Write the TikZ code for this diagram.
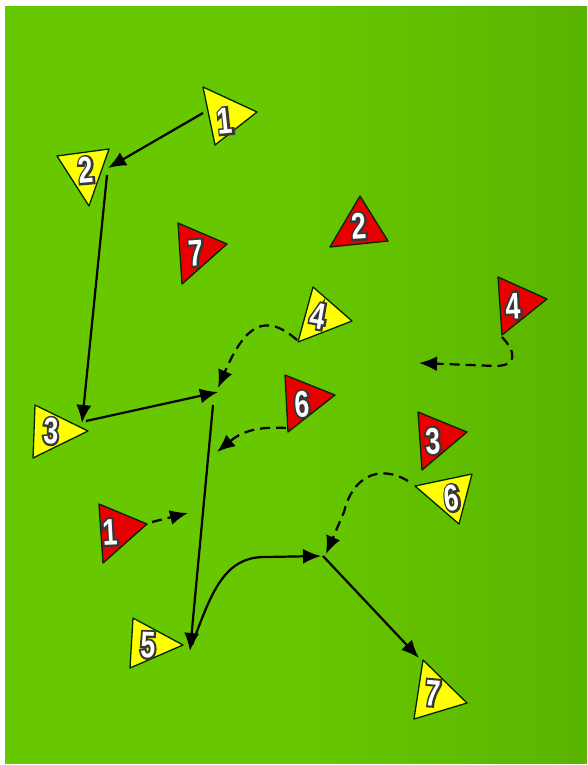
\documentclass[tikz,border=0pt]{standalone}
\usepackage{fontspec}
\newfontfamily\digitfont[FakeStretch=0.72]{Liberation Sans Bold}
\newfontfamily\digitedge[FakeStretch=0.72,FakeBold=11]{Liberation Sans Bold}
\usetikzlibrary{arrows.meta}
\definecolor{fieldL}{RGB}{103,200,0}
\definecolor{fieldR}{RGB}{90,180,0}
\definecolor{flagY}{RGB}{255,255,0}
\definecolor{flagR}{RGB}{232,0,0}
\definecolor{numedge}{RGB}{55,55,55}
\newcommand\outlined[1]{\rlap{\digitedge\textcolor{numedge}{#1}}{\digitfont\textcolor{white}{#1}}}
\tikzset{
  flagline/.style={draw=black!85!green, line width=1.3pt, line join=round},
  numtext/.style={font=\fontsize{37}{37}\selectfont, inner sep=0pt},
  run/.style={line width=2.2pt, -{Latex[length=18pt,width=15pt]}},
  runpass/.style={line width=2.2pt, dash pattern=on 10pt off 6pt, -{Latex[length=18pt,width=15pt]}},
}
\newcommand\numlabel[4]{\node[numtext, rotate=#3] (#1) at (#2) {\outlined{#4}};}
\begin{document}
\begin{tikzpicture}[x=1pt,y=-1pt]
\useasboundingbox (0,0) rectangle (587,765);
\fill[white] (0,0) rectangle (587,765);
\shade[left color=fieldL, right color=fieldR, middle color=fieldL!96!fieldR] (5,7) rectangle (587,763);

% connector end points
\coordinate (a1s) at (203,113); \coordinate (a1e) at (108,168);
\coordinate (a2s) at (107,175); \coordinate (a2e) at (82,423);
\coordinate (a3s) at (86,421);  \coordinate (a3e) at (218,392);
\coordinate (a4s) at (297,340); \coordinate (a4e) at (218,388);
\coordinate (a5s) at (213,405); \coordinate (a5e) at (190,651);
\coordinate (a6s) at (286,428); \coordinate (a6e) at (217,452);
\coordinate (a7s) at (502,337); \coordinate (a7e) at (419,363);
\coordinate (a8s) at (408,481); \coordinate (a8e) at (326,554);
\coordinate (a9s) at (152,522); \coordinate (a9e) at (188,513);
\coordinate (a10s) at (192,645); \coordinate (a10e) at (321,556);
\coordinate (a11s) at (323,556); \coordinate (a11e) at (419,658);

\draw[run] (a1s) -- (a1e);
\draw[run] (a2s) -- (a2e);
\draw[run] (a3s) -- (a3e);
\draw[runpass] (a4s) .. controls (265,312) and (245,325) .. (a4e);
\draw[run] (a5s) -- (a5e);
\draw[runpass] (a6s) .. controls (255,426) and (240,433) .. (a6e);
\draw[runpass] (a7s) .. controls (516,352) and (518,366) .. (495,366) -- (a7e);
\draw[runpass] (a8s) .. controls (378,463) and (352,478) .. (344,512) -- (a8e);
\draw[runpass] (a9s) -- (a9e);
\draw[run] (a10s) .. controls (212,590) and (225,557) .. (265,557) -- (a10e);
\draw[run] (a11s) -- (a11e);

% yellow flags
\filldraw[flagline, fill=flagY] (203,87) -- (257,112) -- (215,145) -- cycle;
\filldraw[flagline, fill=flagY] (57,156) -- (109,149) -- (89,206) -- cycle;
\filldraw[flagline, fill=flagY] (313,287) -- (352,321) -- (298,342) -- cycle;
\filldraw[flagline, fill=flagY] (35,405) -- (88,431) -- (33,458) -- cycle;
\filldraw[flagline, fill=flagY] (415,486) -- (472,474) -- (459,524) -- cycle;
\filldraw[flagline, fill=flagY] (133,618) -- (183,645) -- (130,668) -- cycle;
\filldraw[flagline, fill=flagY] (423,660) -- (467,703) -- (414,719) -- cycle;
% red flags
\filldraw[flagline, fill=flagR] (178,223) -- (227,244) -- (182,284) -- cycle;
\filldraw[flagline, fill=flagR] (360,196) -- (388,241) -- (330,247) -- cycle;
\filldraw[flagline, fill=flagR] (498,277) -- (547,299) -- (502,335) -- cycle;
\filldraw[flagline, fill=flagR] (285,375) -- (335,395) -- (288,432) -- cycle;
\filldraw[flagline, fill=flagR] (418,412) -- (467,432) -- (422,470) -- cycle;
\filldraw[flagline, fill=flagR] (99,504) -- (147,524) -- (103,563) -- cycle;

% numbers
\numlabel{y1}{225,121}{6}{1}
\numlabel{y2}{86,170}{5}{2}
\numlabel{y4}{318,316}{-10}{4}
\numlabel{y3}{51,431}{-2}{3}
\numlabel{y6}{452,498}{6}{6}
\numlabel{y5}{148,645}{-2}{5}
\numlabel{y7}{433,693}{-5}{7}
\numlabel{r7}{196,253}{4}{7}
\numlabel{r2}{359,226}{4}{2}
\numlabel{r4}{513,306}{3}{4}
\numlabel{r6}{302,404}{3}{6}
\numlabel{r3}{433,441}{3}{3}
\numlabel{r1}{110,532}{3}{1}
\end{tikzpicture}
\end{document}
